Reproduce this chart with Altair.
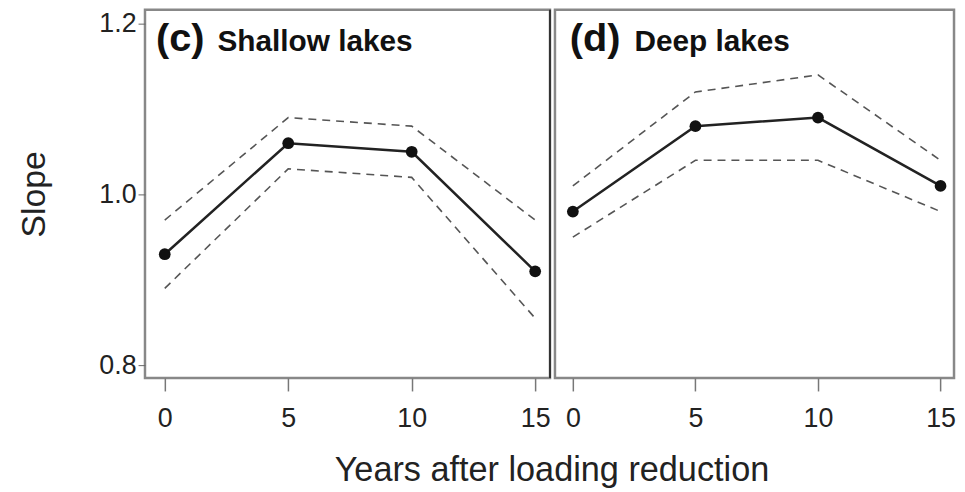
import altair as alt
import pandas as pd

years = [0, 5, 10, 15]
shallow_mid = [0.93, 1.06, 1.05, 0.91]
shallow_up = [0.97, 1.09, 1.08, 0.97]
shallow_lo = [0.89, 1.03, 1.02, 0.855]
deep_mid = [0.98, 1.08, 1.09, 1.01]
deep_up = [1.01, 1.12, 1.14, 1.04]
deep_lo = [0.95, 1.04, 1.04, 0.98]

FONT = "Liberation Sans"
YDOM = [0.785, 1.2163]
H = 371


def panel(mid, up, lo, letter, name, xdom, width, show_y, letter_x, name_x, sep):
    df = pd.DataFrame({"year": years, "mid": mid, "up": up, "lo": lo})
    xs = alt.Scale(domain=xdom, nice=False, zero=False)
    ys = alt.Scale(domain=YDOM, nice=False, zero=False)
    xax = alt.Axis(values=years, title=None, domain=False, grid=False,
                   tickSize=13, tickColor="#777", tickWidth=1.5,
                   labelFontSize=27, labelFont=FONT, labelColor="#222",
                   labelPadding=15)
    if show_y:
        yax = alt.Axis(values=[0.8, 1.0, 1.2], format=".1f", title="Slope",
                       domain=False, grid=False, tickSize=7, tickColor="#666",
                       labelFontSize=27, labelFont=FONT, labelColor="#222",
                       labelPadding=2, titleFont=FONT, titleFontSize=34,
                       titleFontWeight="normal", titleColor="#222",
                       titlePadding=48)
    else:
        yax = None
    base = alt.Chart(df)
    x = alt.X("year:Q", scale=xs, axis=xax)
    upl = base.mark_line(color="#555", strokeDash=[8, 6], strokeWidth=1.6).encode(
        x=x, y=alt.Y("up:Q", scale=ys, axis=yax))
    lol = base.mark_line(color="#555", strokeDash=[8, 6], strokeWidth=1.6).encode(
        x=x, y=alt.Y("lo:Q", scale=ys, axis=yax))
    midl = base.mark_line(color="#222", strokeWidth=2.5).encode(
        x=x, y=alt.Y("mid:Q", scale=ys, axis=yax))
    pts = base.mark_circle(color="#111", opacity=1, size=140).encode(
        x=x, y=alt.Y("mid:Q", scale=ys, axis=yax))
    t1 = alt.Chart(pd.DataFrame({"t": [letter]})).mark_text(
        font=FONT, fontSize=40, fontWeight="bold", align="left",
        baseline="alphabetic", color="#111"
    ).encode(x=alt.value(letter_x), y=alt.value(42), text="t:N")
    t2 = alt.Chart(pd.DataFrame({"t": [name]})).mark_text(
        font=FONT, fontSize=30, fontWeight="bold", align="left",
        baseline="alphabetic", color="#111"
    ).encode(x=alt.value(name_x), y=alt.value(42), text="t:N")
    layers = [upl, lol, midl, pts, t1, t2]
    if sep:
        layers.append(alt.Chart(pd.DataFrame({"a": [0]})).mark_rule(
            color="#333", strokeWidth=2).encode(
            x=alt.value(width), y=alt.value(0), y2=alt.value(H)))
    return alt.layer(*layers).properties(
        width=width, height=H,
        view=alt.ViewBackground(stroke="#888", strokeWidth=2.5, fill="white"),
    )


left = panel(shallow_mid, shallow_up, shallow_lo, "(c)", "Shallow lakes",
             [-0.8, 15.6], 408, True, 11, 73, True)
right = panel(deep_mid, deep_up, deep_lo, "(d)", "Deep lakes",
              [-0.73, 15.55], 402, False, 15, 80, False)

chart = alt.hconcat(left, right, spacing=0).properties(
    title=alt.TitleParams("Years after loading reduction", orient="bottom",
                          anchor="middle", font=FONT, fontSize=34.5,
                          fontWeight="normal", color="#222", offset=21, dx=66),
    padding={"left": 8, "top": -3, "right": 0, "bottom": 0},
).configure(background="white")

chart.save("out.html", embed_options={"renderer": "svg", "actions": False})
